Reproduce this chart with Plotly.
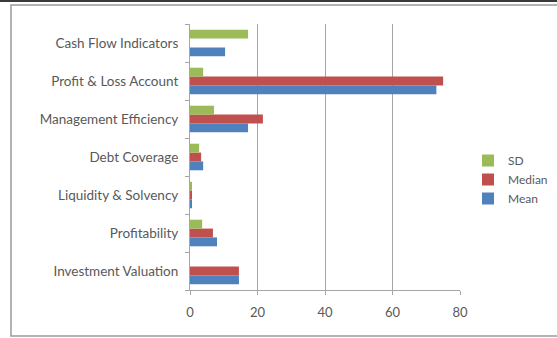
import plotly.graph_objects as go

categories = [
    "Investment Valuation",
    "Profitability",
    "Liquidity & Solvency",
    "Debt Coverage",
    "Management Efficiency",
    "Profit & Loss Account",
    "Cash Flow Indicators",
]
mean_vals = [14.5, 8.0, 0.3, 3.9, 17.2, 73.0, 10.4]
median_vals = [14.5, 6.8, 0.3, 3.3, 21.6, 75.0, 0.0]
sd_vals = [0.0, 3.6, 0.3, 2.7, 7.1, 3.9, 17.2]
x_ticks = [0, 20, 40, 60, 80]

W, H = 557, 338
L, R, T, B = 190, 97, 24, 48
pw, ph = W - L - R, H - T - B

def px_x(px):
    return (px - L) / pw

def px_y(py):
    return (H - B - py) / ph

fig = go.Figure()
fig.add_trace(go.Bar(y=categories, x=mean_vals, orientation="h", name="Mean",
                     marker=dict(color="#4F81BD", line=dict(width=0))))
fig.add_trace(go.Bar(y=categories, x=median_vals, orientation="h", name="Median",
                     marker=dict(color="#C0504D", line=dict(width=0))))
fig.add_trace(go.Bar(y=categories, x=sd_vals, orientation="h", name="SD",
                     marker=dict(color="#9BBB59", line=dict(width=0))))

font = "Lato, 'Open Sans', sans-serif"

fig.update_layout(
    width=W, height=H,
    margin=dict(l=L, r=R, t=T, b=B, autoexpand=False),
    paper_bgcolor="white", plot_bgcolor="white",
    barmode="group", bargap=0.3, bargroupgap=0,
    font=dict(family=font, size=13, color="#595959"),
    legend=dict(traceorder="reversed", x=px_x(468), y=px_y(146), xanchor="left", yanchor="top",
                font=dict(size=12, color="#595959"), itemwidth=30, tracegroupgap=0,
                bgcolor="rgba(0,0,0,0)"),
    xaxis=dict(range=[0, 80], tickvals=x_ticks, showgrid=True, gridcolor="#A6A6A6", gridwidth=1,
               showline=True, linecolor="#A6A6A6", ticks="outside", ticklen=4, tickcolor="#A6A6A6",
               ticklabelstandoff=6, zeroline=False, tickfont=dict(size=13, color="#595959")),
    yaxis=dict(showline=True, linecolor="#A6A6A6", ticks="outside", ticklen=4, tickcolor="#A6A6A6",
               tickson="boundaries", showgrid=False, ticklabelstandoff=8,
               tickfont=dict(size=13.5, color="#595959")),
    shapes=[
        dict(type="rect", xref="paper", yref="paper",
             x0=px_x(11), x1=px_x(W + 5), y0=px_y(H - 2), y1=px_y(5),
             line=dict(color="#9A9A9A", width=1.5), fillcolor="rgba(0,0,0,0)", layer="below"),
        dict(type="rect", xref="paper", yref="paper",
             x0=px_x(-2), x1=px_x(W + 2), y0=px_y(2), y1=px_y(-2),
             line=dict(width=0), fillcolor="#3A3A3A", layer="above"),
    ],
)

fig.write_html("out.html")
